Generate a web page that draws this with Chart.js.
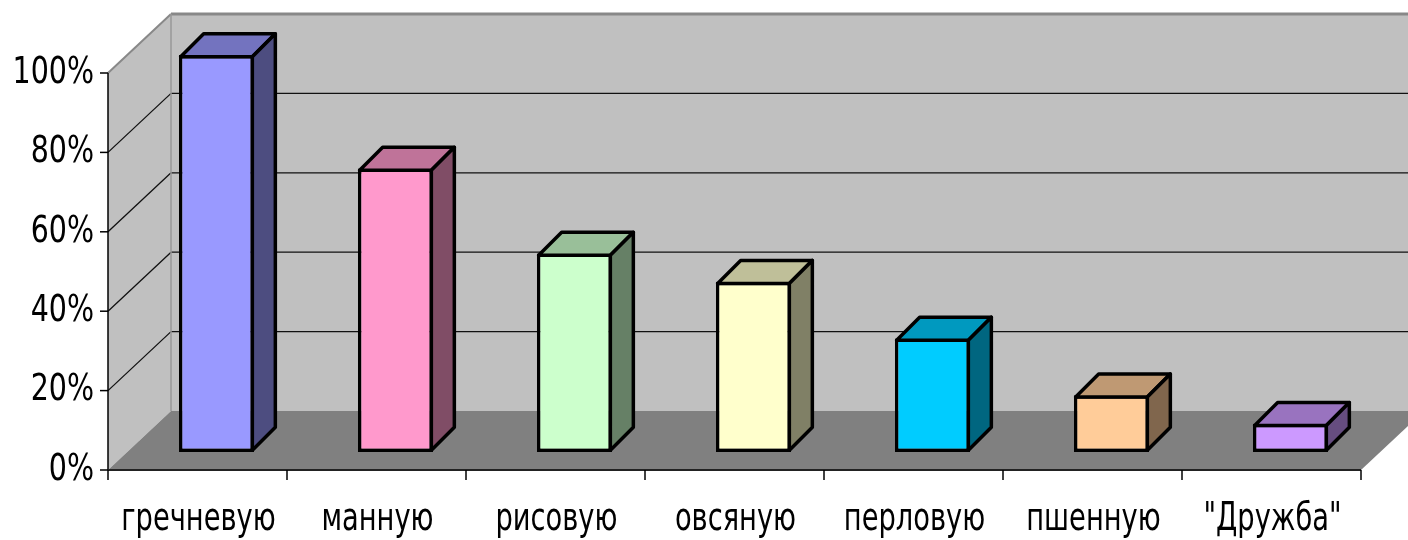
<!DOCTYPE html>
<html>
<head>
<meta charset="utf-8">
<script src="https://cdn.jsdelivr.net/npm/chart.js@4.4.0/dist/chart.umd.min.js"></script>
<style>
  html, body { margin: 0; padding: 0; background: #fff; }
  #wrap { width: 1408px; height: 540px; }
</style>
</head>
<body>
<div id="wrap"><canvas id="chart"></canvas></div>
<script>
const categories = ['гречневую', 'манную', 'рисовую', 'овсяную', 'перловую', 'пшенную', '"Дружба"'];
const shares = [100, 71.4, 50, 42.9, 28.6, 14.3, 7.1];
const yTicks = [0, 20, 40, 60, 80, 100];

const frontColors = ['#9999ff', '#ff99cc', '#ccffcc', '#ffffcc', '#00ccff', '#ffcc99', '#cc99ff'];
const topColors   = ['#7373bf', '#bf7399', '#99bf99', '#bfbf99', '#0099bf', '#bf9973', '#9973bf'];
const sideColors  = ['#4d4d80', '#804d66', '#668066', '#808066', '#006680', '#80664d', '#664d80'];

// oblique offsets: whole floor depth, bar front shift, bar depth
const wall = { dx: 63, dy: -59 };
const bar = { dx: 19, dy: -18, ddx: 23, ddy: -23 };

function poly(ctx, pts, fill, stroke, lw) {
  ctx.beginPath();
  pts.forEach((p, i) => i ? ctx.lineTo(p[0], p[1]) : ctx.moveTo(p[0], p[1]));
  ctx.closePath();
  if (fill) { ctx.fillStyle = fill; ctx.fill(); }
  if (stroke) { ctx.strokeStyle = stroke; ctx.lineWidth = lw; ctx.stroke(); }
}

function line(ctx, x1, y1, x2, y2, color, lw) {
  ctx.beginPath();
  ctx.moveTo(x1, y1);
  ctx.lineTo(x2, y2);
  ctx.strokeStyle = color;
  ctx.lineWidth = lw;
  ctx.stroke();
}

const box3d = {
  id: 'box3d',
  beforeDatasetsDraw(chart) {
    const { ctx, chartArea: a, scales: { x, y } } = chart;
    const L = a.left, R = a.right, T = a.top, B = a.bottom;
    const { dx, dy } = wall;
    ctx.save();
    // back wall, left wall, floor
    poly(ctx, [[L + dx, T + dy], [R + dx, T + dy], [R + dx, B + dy], [L + dx, B + dy]], '#c0c0c0');
    poly(ctx, [[L, T], [L + dx, T + dy], [L + dx, B + dy], [L, B]], '#c0c0c0');
    poly(ctx, [[L, B], [R, B], [R + dx, B + dy], [L + dx, B + dy]], '#808080');
    // gridlines
    yTicks.forEach(v => {
      if (v === 0 || v === 100) return;
      const py = y.getPixelForValue(v);
      line(ctx, L + dx, py + dy, R + dx, py + dy, '#111', 1.3);
      line(ctx, L, py, L + dx, py + dy, '#111', 1.3);
    });
    // wall edges
    line(ctx, L + dx, T + dy, R + dx, T + dy, '#888', 3);
    line(ctx, L, T, L + dx, T + dy, '#888', 2);
    line(ctx, L + dx, T + dy, L + dx, B + dy, '#999', 1.5);
    // front axes
    line(ctx, L, T, L, B, '#000', 1.5);
    line(ctx, L, B, R, B, '#222', 2);
    yTicks.forEach(v => {
      const py = y.getPixelForValue(v);
      line(ctx, L - 8, py, L, py, '#000', 1.5);
    });
    const step = (R - L) / categories.length;
    for (let k = 0; k <= categories.length; k++) {
      line(ctx, L + k * step, B, L + k * step, B + 10, '#000', 1.5);
    }
    ctx.restore();
    ctx.save();
    ctx.translate(bar.dx, bar.dy);
  },
  afterDatasetsDraw(chart) {
    const { ctx } = chart;
    const meta = chart.getDatasetMeta(0);
    ctx.lineJoin = 'round';
    meta.data.forEach((el, i) => {
      const p = el.getProps(['x', 'y', 'base', 'width'], true);
      const l = p.x - p.width / 2 + 1.75, r = p.x + p.width / 2 - 1.75;
      const t = p.y + 1.75, b = p.base - 1.75;
      const { ddx, ddy } = bar;
      poly(ctx, [[l, t], [r, t], [r + ddx, t + ddy], [l + ddx, t + ddy]], topColors[i], '#000', 3.5);
      poly(ctx, [[r, t], [r + ddx, t + ddy], [r + ddx, b + ddy], [r, b]], sideColors[i], '#000', 3.5);
    });
    ctx.restore();
  },
  afterDraw(chart) {
    const { ctx, chartArea: a, scales: { x, y } } = chart;
    ctx.save();
    ctx.fillStyle = '#000';
    ctx.font = '38px "DejaVu Sans"';
    ctx.textAlign = 'right';
    ctx.textBaseline = 'middle';
    ctx.scale(0.75, 1);
    yTicks.forEach(v => ctx.fillText(v + '%', (a.left - 14) / 0.75, y.getPixelForValue(v)));
    ctx.restore();

    ctx.save();
    ctx.fillStyle = '#000';
    ctx.font = '39px "DejaVu Sans"';
    ctx.textAlign = 'center';
    ctx.textBaseline = 'alphabetic';
    ctx.scale(0.7, 1);
    categories.forEach((c, i) => ctx.fillText(c, (x.getPixelForValue(i) + 1) / 0.7, 530));
    ctx.restore();
  }
};

new Chart(document.getElementById('chart'), {
  type: 'bar',
  data: {
    labels: categories,
    datasets: [{
      data: shares,
      backgroundColor: frontColors,
      borderColor: '#000',
      borderWidth: 3.5,
      borderSkipped: false,
      categoryPercentage: 1,
      barPercentage: 0.42,
      clip: false
    }]
  },
  options: {
    responsive: true,
    maintainAspectRatio: false,
    animation: false,
    layout: { padding: { left: 108, right: 47, top: 73, bottom: 70 } },
    plugins: { legend: { display: false }, tooltip: { enabled: false } },
    scales: {
      x: { display: false },
      y: { display: false, min: 0, max: 100 }
    }
  },
  plugins: [box3d]
});
</script>
</body>
</html>
